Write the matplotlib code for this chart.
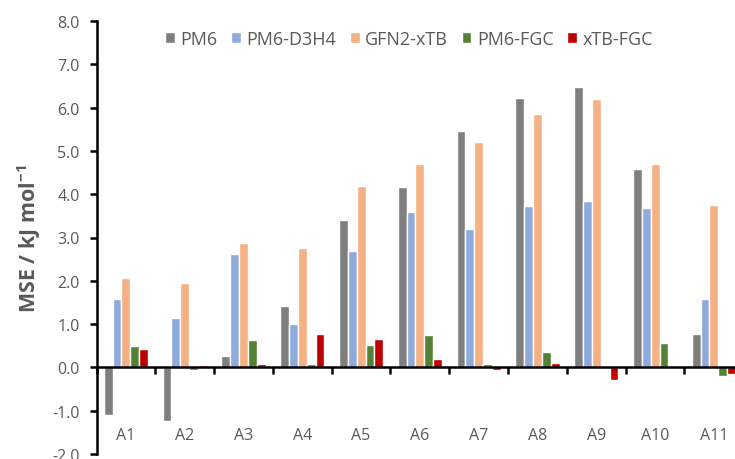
import matplotlib.pyplot as plt
import numpy as np

plt.rcParams['font.family'] = ['Open Sans', 'DejaVu Sans']

# MSE per subset for each method (kJ/mol)
categories = ["A1", "A2", "A3", "A4", "A5", "A6", "A7", "A8", "A9", "A10", "A11"]
methods = ["PM6", "PM6-D3H4", "GFN2-xTB", "PM6-FGC", "xTB-FGC"]
pm6 = [-1.10, -1.24, 0.27, 1.41, 3.40, 4.16, 5.45, 6.23, 6.47, 4.58, 0.76]
pm6_d3h4 = [1.58, 1.15, 2.61, 1.01, 2.68, 3.58, 3.20, 3.73, 3.84, 3.68, 1.58]
gfn2_xtb = [2.07, 1.96, 2.87, 2.76, 4.19, 4.69, 5.20, 5.85, 6.19, 4.69, 3.76]
pm6_fgc = [0.49, -0.05, 0.64, 0.08, 0.52, 0.75, 0.09, 0.35, 0.00, 0.57, -0.19]
xtb_fgc = [0.42, 0.05, 0.08, 0.77, 0.66, 0.19, -0.07, 0.10, -0.28, 0.00, -0.16]

series = [pm6, pm6_d3h4, gfn2_xtb, pm6_fgc, xtb_fgc]
colors = ["#7f7f7f", "#8faadc", "#f4b183", "#548235", "#c00000"]
txt = "#595959"

fig = plt.figure(figsize=(7.35, 4.6), dpi=100)
ax = fig.add_axes([96.5 / 735, 5 / 460, 646.8 / 735, 433 / 460])

x = np.arange(len(categories))
w = 0.15
for i, (vals, name, c) in enumerate(zip(series, methods, colors)):
    ax.bar(x + (i - 2) * w, vals, w, color=c, edgecolor="white",
           linewidth=1.0, label=name, zorder=2)

ax.set_xlim(-0.5, len(categories) - 0.5)
ax.set_ylim(-2, 8)
ax.set_yticks(np.arange(-2, 9, 1))
ax.set_yticklabels([f"{v:.1f}" for v in np.arange(-2, 9, 1)])

for s in ["top", "right"]:
    ax.spines[s].set_visible(False)
ax.spines["left"].set_linewidth(1.8)
ax.spines["bottom"].set_position(("data", 0))
ax.spines["bottom"].set_linewidth(1.8)
ax.spines["bottom"].set_zorder(3)

# ticks on x sit between groups, labels go below the plot
ax.set_xticks(np.arange(len(categories) + 1) - 0.5)
ax.set_xticklabels([])
ax.tick_params(axis="x", direction="out", length=5, width=1.8, color="black")
ax.tick_params(axis="y", direction="out", length=5, width=1.8, color="black",
               labelsize=11.5, labelcolor=txt, pad=7)
for xi, lab in zip(x, categories):
    ax.text(xi, -1.55, lab, ha="center", va="center", fontsize=11.5, color=txt)

ax.set_ylabel("MSE / kJ mol$^{\\mathregular{-1}}$", fontsize=15.5, fontweight="bold",
              color=txt, labelpad=7)

fig.legend(loc="center", bbox_to_anchor=(409 / 735, 1 - 40 / 460), ncol=5,
           frameon=False, fontsize=13, handlelength=0.55, handleheight=0.55,
           handletextpad=0.3, columnspacing=0.75, labelcolor=txt)

fig.savefig("out.png", dpi=100)
